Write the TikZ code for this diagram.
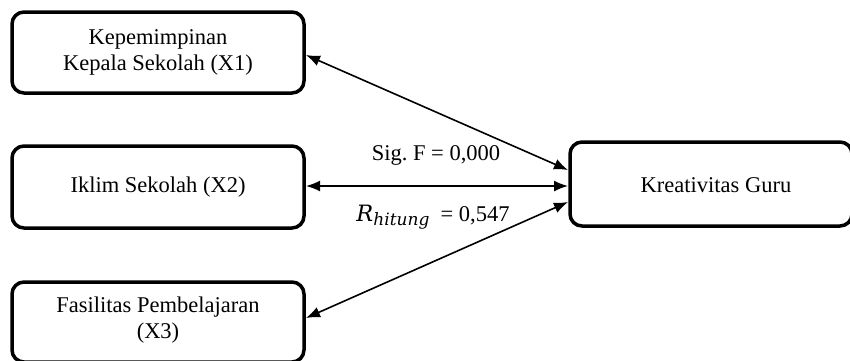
\documentclass[tikz,border=0pt]{standalone}
\usepackage{fontspec}
\setmainfont{Liberation Serif}
\newfontfamily\mathlike{DejaVu Serif}
\usetikzlibrary{arrows.meta}
\begin{document}
\begin{tikzpicture}[x=1pt,y=-1pt,
  box/.style={draw, line width=3.5pt, rounded corners=12pt, fill=white},
  txt/.style={font=\fontsize{22.5}{26}\selectfont, align=center},
  conn/.style={line width=1.6pt, {Latex[length=14pt,width=11pt]}-{Latex[length=14pt,width=11pt]}}]
\useasboundingbox (0,0) rectangle (850,360);
\draw[box] (12,12) rectangle (304,93);
\node[txt] (x1) at (158,52) {Kepemimpinan\\Kepala Sekolah (X1)};
\draw[box] (12,146) rectangle (304,228);
\node[txt] (x2) at (158,187) {Iklim Sekolah (X2)};
\draw[box] (12,282) rectangle (304,362);
\node[txt] (x3) at (158,320) {Fasilitas Pembelajaran\\(X3)};
\draw[box] (570,142) rectangle (852,226);
\node[txt] (y) at (716,185) {Kreativitas Guru};
\coordinate (a1) at (306,55);
\coordinate (a2) at (306,186);
\coordinate (a3) at (306,318);
\coordinate (b1) at (568,170);
\coordinate (b2) at (568,186);
\coordinate (b3) at (568,202);
\draw[conn] (a1) -- (b1);
\draw[conn] (a2) -- (b2);
\draw[conn] (a3) -- (b3);
\node[txt] (sig) at (436,155) {Sig.\ F = 0,000};
\node[txt] (r) at (433,217) {{\mathlike\itshape R}\raisebox{-0.35ex}{\fontsize{17}{19}\selectfont\mathlike\itshape hitung}\ \ = 0,547};
\end{tikzpicture}
\end{document}
